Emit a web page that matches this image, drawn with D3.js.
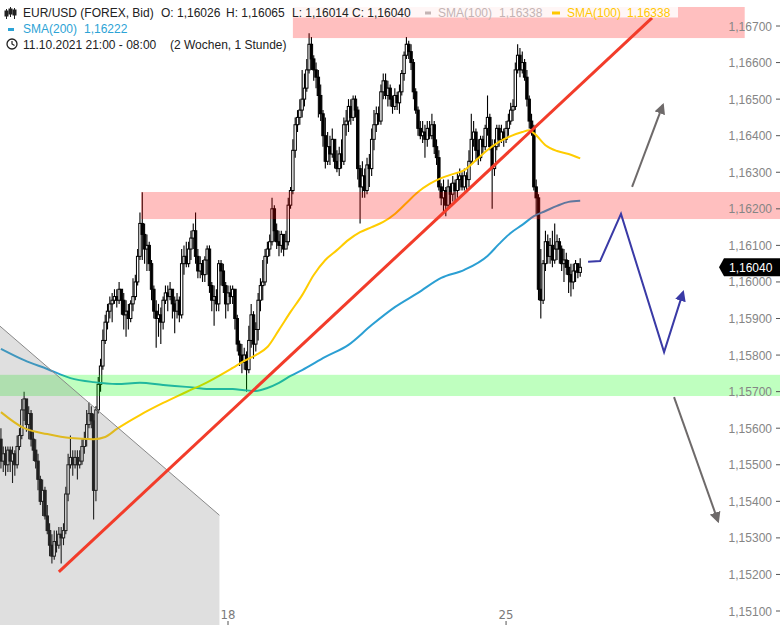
<!DOCTYPE html>
<html><head><meta charset="utf-8">
<script src="https://cdn.jsdelivr.net/npm/d3@7"></script>
<style>body{margin:0;background:#fff}svg{display:block}</style>
</head><body><svg id="c" width="780" height="625"></svg>
<script>
// ---------- data (hourly EUR/USD candles, index 0 = first visible candle) ----------
const firstOpen = 1.1557;
const closes = [
1.1551,1.1553,1.1550,1.1554,1.1551,1.1553,1.1550,1.1555,1.1558,1.1565,
1.1568,1.1561,1.1564,1.1557,1.1554,1.1551,1.1546,1.1540,1.1543,1.1536,
1.1532,1.1528,1.1525,1.1529,1.1528,1.1531,1.1530,1.1532,1.1542,1.1550,
1.1552,1.1550,1.1552,1.1550,1.1551,1.1555,1.1557,1.1561,1.1564,1.1562,
1.1543,1.1565,1.1572,1.1577,1.1584,1.1589,1.1592,1.1594,1.1595,1.1596,
1.1595,1.1598,1.1595,1.1591,1.1592,1.1590,1.1594,1.1596,1.1600,1.1607,
1.1616,1.1613,1.1609,1.1610,1.1605,1.1598,1.1592,1.1590,1.1591,1.1589,
1.1595,1.1597,1.1596,1.1598,1.1594,1.1592,1.1595,1.1591,1.1605,1.1607,
1.1605,1.1609,1.1612,1.1614,1.1607,1.1603,1.1605,1.1602,1.1606,1.1609,
1.1599,1.1595,1.1596,1.1594,1.1605,1.1603,1.1599,1.1594,1.1597,1.1596,
1.1598,1.1590,1.1583,1.1580,1.1578,1.1580,1.1576,1.1584,1.1591,1.1583,
1.1587,1.1595,1.1599,1.1600,1.1607,1.1609,1.1611,1.1620,1.1614,1.1611,
1.1610,1.1613,1.1609,1.1611,1.1621,1.1625,1.1636,1.1643,1.1645,1.1647,
1.1650,1.1653,1.1658,1.1665,1.1661,1.1658,1.1656,1.1651,1.1646,1.1640,
1.1633,1.1637,1.1635,1.1639,1.1633,1.1631,1.1635,1.1633,1.1643,1.1644,
1.1648,1.1645,1.1650,1.1647,1.1631,1.1626,1.1629,1.1625,1.1632,1.1631,
1.1639,1.1643,1.1646,1.1644,1.1652,1.1655,1.1651,1.1653,1.1650,1.1648,
1.1651,1.1649,1.1652,1.1657,1.1662,1.1665,1.1663,1.1660,1.1652,1.1647,
1.1642,1.1640,1.1641,1.1639,1.1642,1.1640,1.1643,1.1637,1.1634,1.1626,
1.1623,1.1625,1.1621,1.1626,1.1624,1.1627,1.1625,1.1628,1.1629,1.1626,
1.1629,1.1628,1.1633,1.1639,1.1641,1.1636,1.1634,1.1639,1.1637,1.1642,
1.1645,1.1637,1.1631,1.1637,1.1642,1.1639,1.1641,1.1639,1.1642,1.1644,
1.1647,1.1648,1.1658,1.1662,1.1658,1.1660,1.1656,1.1650,1.1644,1.1642,
1.1626,1.1623,1.1598,1.1595,1.1605,1.1611,1.1607,1.1610,1.1606,1.1609,
1.1611,1.1609,1.1605,1.1606,1.1604,1.1602,1.1600,1.1603,1.1605,1.16026,1.16040];
const highs = [
1.1560,1.1555,1.1555,1.1555,1.1555,1.1555,1.1554,1.1558,1.1560,1.1568,
1.1570,1.1568,1.1566,1.1565,1.1559,1.1557,1.1553,1.1547,1.1546,1.1544,
1.1539,1.1534,1.1531,1.1532,1.1532,1.1533,1.1533,1.1534,1.1544,1.1553,
1.1558,1.1554,1.1554,1.1554,1.1554,1.1557,1.1559,1.1565,1.1567,1.1566,
1.1564,1.1566,1.1574,1.1579,1.1587,1.1591,1.1594,1.1596,1.1597,1.1598,
1.1598,1.1600,1.1598,1.1597,1.1595,1.1594,1.1595,1.1601,1.1602,1.1609,
1.1619,1.16245,1.1616,1.1613,1.1611,1.1606,1.1599,1.1595,1.1594,1.1593,
1.1596,1.1599,1.1599,1.1600,1.1598,1.1596,1.1597,1.1596,1.1609,1.1610,
1.1611,1.1611,1.1614,1.1616,1.1619,1.1609,1.1607,1.1606,1.1607,1.1610,
1.1610,1.1600,1.1599,1.1598,1.1606,1.1606,1.1605,1.1600,1.1599,1.1599,
1.1599,1.1598,1.1591,1.1584,1.1583,1.1582,1.1581,1.1588,1.1594,1.1592,
1.1589,1.1597,1.1601,1.1606,1.1609,1.1611,1.1613,1.1623,1.1621,1.1616,
1.1614,1.1614,1.1613,1.1614,1.1623,1.1626,1.1639,1.1645,1.1647,1.1650,
1.1658,1.1657,1.1661,1.1668,1.1667,1.1662,1.1660,1.1658,1.1654,1.1647,
1.1645,1.1641,1.1640,1.1642,1.1639,1.1636,1.1637,1.1639,1.1645,1.1647,
1.1650,1.1650,1.1651,1.1651,1.1648,1.1632,1.1633,1.1631,1.1634,1.1635,
1.1642,1.1647,1.1648,1.1648,1.1654,1.1657,1.1657,1.1655,1.1654,1.1651,
1.1653,1.1652,1.1654,1.1658,1.1663,1.1667,1.1666,1.1665,1.1661,1.1653,
1.1648,1.1644,1.1644,1.1643,1.1644,1.1644,1.1646,1.1644,1.1639,1.1636,
1.1627,1.1628,1.1626,1.1628,1.1627,1.1629,1.1628,1.1630,1.1631,1.1630,
1.1631,1.1630,1.1636,1.1646,1.1644,1.1642,1.1639,1.1640,1.1640,1.1643,
1.1651,1.1646,1.1639,1.1639,1.1643,1.1643,1.1643,1.1642,1.1644,1.1646,
1.1649,1.1650,1.1660,1.1665,1.1664,1.1663,1.1661,1.1658,1.1651,1.1646,
1.1643,1.1628,1.1624,1.1609,1.1606,1.1614,1.1613,1.1612,1.1614,1.1616,
1.1613,1.1612,1.1610,1.1609,1.1608,1.1606,1.1605,1.1605,1.1606,1.1605,1.16065];
const lows = [
1.1549,1.1548,1.1547,1.1548,1.1548,1.1545,1.1547,1.1549,1.1554,1.1557,
1.1562,1.1559,1.1557,1.1555,1.1551,1.1549,1.1543,1.1539,1.1536,1.1535,
1.1531,1.1525,1.1523,1.1524,1.1526,1.1527,1.1523,1.1528,1.1531,1.1540,
1.1549,1.1547,1.1549,1.1546,1.1549,1.1550,1.1553,1.1555,1.1560,1.1560,
1.1535,1.1540,1.1564,1.1570,1.1576,1.1583,1.1587,1.1590,1.1589,1.1594,
1.1593,1.1594,1.1591,1.1587,1.1585,1.1587,1.1589,1.1592,1.1595,1.1599,
1.1606,1.1606,1.1605,1.1603,1.1603,1.1595,1.1590,1.1582,1.1585,1.1583,
1.1587,1.1594,1.1592,1.1595,1.1590,1.1586,1.1590,1.1589,1.1590,1.1602,
1.1604,1.1604,1.1606,1.1609,1.1605,1.1601,1.1601,1.1600,1.1600,1.1602,
1.1597,1.1592,1.1588,1.1592,1.1592,1.1599,1.1597,1.1590,1.1592,1.1594,
1.1594,1.1587,1.1581,1.1577,1.1575,1.1576,1.1570,1.1575,1.1582,1.1579,
1.1581,1.1584,1.1592,1.1595,1.1599,1.1605,1.1607,1.1610,1.1611,1.1609,
1.1607,1.1608,1.1607,1.1609,1.1610,1.1620,1.1624,1.1634,1.1641,1.1643,
1.1645,1.1648,1.1652,1.1657,1.1658,1.1655,1.1653,1.1645,1.1644,1.1637,
1.1631,1.1632,1.1632,1.1634,1.1631,1.1630,1.1629,1.1631,1.1632,1.1640,
1.1641,1.1643,1.1644,1.1645,1.1628,1.1616,1.1623,1.1623,1.1624,1.1626,
1.1629,1.1636,1.1641,1.1643,1.1643,1.1650,1.1650,1.1648,1.1648,1.1646,
1.1647,1.1647,1.1646,1.1651,1.1655,1.1661,1.1661,1.1658,1.1650,1.1646,
1.1640,1.1639,1.1638,1.1634,1.1637,1.1639,1.1639,1.1635,1.1632,1.1625,
1.1621,1.1619,1.1618,1.1620,1.1621,1.1622,1.1622,1.1623,1.1625,1.1625,
1.1625,1.1625,1.1626,1.1632,1.1637,1.1633,1.1632,1.1633,1.1635,1.1636,
1.1640,1.1636,1.1620,1.1629,1.1636,1.1637,1.1638,1.1637,1.1638,1.1640,
1.1643,1.1644,1.1647,1.1657,1.1656,1.1657,1.1655,1.1648,1.1642,1.1640,
1.1625,1.1618,1.1595,1.1590,1.1594,1.1603,1.1605,1.1605,1.1604,1.1605,
1.1606,1.1605,1.1603,1.1600,1.1602,1.1597,1.1596,1.1598,1.1600,1.1601,1.16014];

// moving averages [candle index, value]
const sma100 = [[0,1.15644],[10,1.1560],[20,1.15584],[30,1.15573],[40,1.1557],[45,1.15576],[50,1.15598],
 [60,1.15636],[70,1.15669],[80,1.15699],[90,1.15729],[100,1.15765],[105,1.15784],[110,1.1580],[115,1.15822],
 [120,1.15869],[125,1.15918],[130,1.15964],[135,1.16019],[140,1.1606],[145,1.16087],[150,1.16115],[155,1.16136],
 [160,1.1615],[165,1.16164],[170,1.16186],[175,1.16216],[180,1.16246],[185,1.16268],[190,1.16284],[195,1.16295],
 [200,1.16306],[205,1.16333],[210,1.16361],[215,1.16383],[220,1.16399],[225,1.1641],[228,1.16415],[230,1.16407],
 [235,1.16374],[240,1.16358],[245,1.1635],[250,1.16338]];
const sma200 = [[0,1.15817],[10,1.15786],[20,1.15762],[30,1.15737],[40,1.15726],[50,1.15721],[60,1.15724],
 [70,1.15718],[80,1.15713],[90,1.15707],[100,1.15707],[105,1.15704],[110,1.15702],[115,1.1571],[120,1.15724],
 [125,1.15743],[130,1.15759],[140,1.15795],[150,1.15828],[160,1.15882],[170,1.15931],[180,1.1597],[190,1.16011],
 [200,1.16033],[210,1.16071],[215,1.16104],[220,1.16134],[225,1.16156],[230,1.1618],[235,1.16194],[240,1.16208],
 [245,1.16219],[250,1.16222]];

// drawings
const redZones = [{from:126,to:321,lo:1.16667,hi:1.16752},{from:60.5,to:337,lo:1.16172,hi:1.16246}];
const greenZones = [{from:-1,to:337,lo:1.15688,hi:1.15746}];
const grayTriangle = [[-0.4,1.15879],[94.3,1.15362],[94.3,1.1505],[-0.4,1.1505]];
const trendLine = [[25,1.15207],[281,1.16722]];
const arrowUp = [[272.4,1.16260],[285.7,1.16484]];
const scenario = [[253.4,1.16055],[258.6,1.16057],[267.6,1.16186],[286.2,1.15808],[294.4,1.15972]];
const arrowDown = [[290.5,1.15685],[309.5,1.15346]];

const yTicks = [1.151,1.152,1.153,1.154,1.155,1.156,1.157,1.158,1.159,1.160,1.161,1.162,1.163,1.164,1.165,1.166,1.167];
const xTicks = [{i:98,label:"18"},{i:218,label:"25"}];
const lastPrice = 1.16040;

// ---------- drawing ----------
const svg = d3.select("#c");
const x = d3.scaleLinear().domain([0,250]).range([0.93,580.2]);
const y = d3.scaleLinear().domain([1.151,1.167]).range([611,26]);
const fmt = v => d3.format(".5f")(v).replace(".",",");
const FONT = "'Liberation Sans',Arial,sans-serif";

const opens = [firstOpen, ...closes.slice(0,-1)];
const data = closes.map((c,i)=>({i,o:opens[i],h:highs[i],l:lows[i],c}));

const defs = svg.append("defs");
function marker(id,color){
  defs.append("marker").attr("id",id).attr("viewBox","0 0 10 10").attr("refX",8).attr("refY",5)
   .attr("markerWidth",11).attr("markerHeight",11).attr("markerUnits","userSpaceOnUse").attr("orient","auto")
   .append("path").attr("d","M0,0L10,5L0,10z").attr("fill",color);
}
marker("mg","#6e6a6a"); marker("mb","#3a3aa6");

// candles
const gc = svg.append("g");
gc.selectAll("line").data(data).join("line")
 .attr("x1",d=>x(d.i)).attr("x2",d=>x(d.i))
 .attr("y1",d=>y(Math.max(d.h,d.o,d.c))).attr("y2",d=>y(Math.min(d.l,d.o,d.c)))
 .attr("stroke","#000").attr("stroke-width",1.1);
gc.selectAll("rect").data(data).join("rect")
 .attr("x",d=>x(d.i)-1.2).attr("width",2.4)
 .attr("y",d=>y(Math.max(d.o,d.c))).attr("height",d=>Math.max(0.8,Math.abs(y(d.o)-y(d.c))))
 .attr("fill",d=>d.c>=d.o?"#fff":"#000").attr("stroke","#000").attr("stroke-width",1);

// SMA lines
const line = d3.line().x(d=>x(d[0])).y(d=>y(d[1])).curve(d3.curveMonotoneX);
svg.append("path").attr("d",line(sma200)).attr("fill","none").attr("stroke","#2b9fd3").attr("stroke-width",2);
svg.append("path").attr("d",line(sma100)).attr("fill","none").attr("stroke","#ffcc00").attr("stroke-width",2);

// zones
svg.selectAll("rect.rz").data(redZones).join("rect").attr("class","rz")
 .attr("x",d=>x(d.from)).attr("width",d=>x(d.to)-x(d.from)).attr("y",d=>y(d.hi)).attr("height",d=>y(d.lo)-y(d.hi))
 .attr("fill","rgba(255,0,0,0.25)");
svg.selectAll("rect.gz").data(greenZones).join("rect").attr("class","gz")
 .attr("x",d=>x(d.from)).attr("width",d=>x(d.to)-x(d.from)).attr("y",d=>y(d.hi)).attr("height",d=>y(d.lo)-y(d.hi))
 .attr("fill","rgba(0,255,0,0.25)");
svg.append("path").attr("d",d3.line().x(d=>x(d[0])).y(d=>y(d[1]))(grayTriangle)+"Z")
 .attr("fill","rgba(128,128,128,0.25)");
svg.append("path").attr("d",d3.line().x(d=>x(d[0])).y(d=>y(d[1]))(grayTriangle.slice(0,2)))
 .attr("stroke","#888").attr("stroke-width",1).attr("fill","none");

// trend line & arrows
const pl = d3.line().x(d=>x(d[0])).y(d=>y(d[1]));
svg.append("path").attr("d",pl(trendLine)).attr("stroke","#f23c2a").attr("stroke-width",3).attr("fill","none");
svg.append("path").attr("d",pl(arrowUp)).attr("stroke","#6e6a6a").attr("stroke-width",2).attr("fill","none").attr("marker-end","url(#mg)");
svg.append("path").attr("d",pl(arrowDown)).attr("stroke","#6e6a6a").attr("stroke-width",2).attr("fill","none").attr("marker-end","url(#mg)");
svg.append("path").attr("d",pl(scenario)).attr("stroke","#3a3aa6").attr("stroke-width",2).attr("fill","none").attr("marker-end","url(#mb)");

// y axis
const ga = svg.append("g").attr("font-family",FONT).attr("font-size",12);
ga.selectAll("text").data(yTicks).join("text").attr("x",772).attr("y",d=>y(d)+4.5)
 .attr("text-anchor","end").attr("fill","#858585").text(fmt);
ga.selectAll("line").data(yTicks).join("line").attr("x1",776).attr("x2",780).attr("y1",d=>y(d)).attr("y2",d=>y(d))
 .attr("stroke","#555");

// price tag
const py = y(lastPrice);
svg.append("path").attr("d",`M719,${py} L724,${py-9} L780,${py-9} L780,${py+9} L724,${py+9} Z`).attr("fill","#000");
svg.append("text").attr("x",729).attr("y",py+4.5).attr("fill","#fff").attr("font-family",FONT)
 .attr("font-size",12).text(fmt(lastPrice));

// x axis
const gx = svg.append("g");
gx.selectAll("text").data(xTicks).join("text").attr("x",d=>x(d.i)).attr("y",619).attr("text-anchor","middle")
 .attr("font-family","'Liberation Sans Narrow','DejaVu Sans Condensed',sans-serif").attr("font-size",13).attr("fill","#7a7a7a").text(d=>d.label);
gx.selectAll("line").data(xTicks).join("line").attr("x1",d=>x(d.i)).attr("x2",d=>x(d.i)).attr("y1",621).attr("y2",625).attr("stroke","#555");

// legend
const lg = svg.append("g").attr("font-family",FONT).attr("font-size",12);
lg.append("rect").attr("x",0).attr("y",3).attr("width",678).attr("height",14.5).attr("fill","rgba(255,255,255,0.85)");
// candle icon
const ic = lg.append("g").attr("stroke","#222").attr("stroke-width",1);
[[6,9,19,11,16],[10,7,17,9,14],[14,8,19,10,15]].forEach(([cx,t,b,bt,bb])=>{
  ic.append("line").attr("x1",cx+0.5).attr("x2",cx+0.5).attr("y1",t).attr("y2",b);
  ic.append("rect").attr("x",cx-1).attr("y",bt).attr("width",3).attr("height",bb-bt).attr("fill","#222");
});
const t1 = [["EUR/USD (FOREX, Bid)",23,"#222"],["O: 1,16026",161,"#222"],["H: 1,16065",226,"#222"],
 ["L: 1,16014",292,"#222"],["C: 1,16040",352,"#222"],["SMA(100)",438,"#c4b4b4"],["1,16338",499,"#c4b4b4"],
 ["SMA(100)",567,"#ffc800"],["1,16338",627,"#ffc800"]];
t1.forEach(([s,tx,c])=>lg.append("text").attr("x",tx).attr("y",17).attr("fill",c).text(s));
lg.append("rect").attr("x",425).attr("y",11.5).attr("width",6).attr("height",3).attr("fill","#c4b4b4");
lg.append("rect").attr("x",552).attr("y",11.5).attr("width",8).attr("height",3).attr("fill","#ffc800");
lg.append("rect").attr("x",8).attr("y",28).attr("width",6).attr("height",3).attr("fill","#2ca3d6");
lg.append("text").attr("x",23).attr("y",33).attr("fill","#2ca3d6").text("SMA(200)");
lg.append("text").attr("x",84).attr("y",33).attr("fill","#2ca3d6").text("1,16222");
lg.append("circle").attr("cx",12).attr("cy",44).attr("r",5).attr("fill","none").attr("stroke","#222").attr("stroke-width",1.3);
lg.append("path").attr("d","M12,41 L12,44 L14.5,45.5").attr("fill","none").attr("stroke","#222").attr("stroke-width",1.2);
lg.append("text").attr("x",23).attr("y",49).attr("fill","#222").text("11.10.2021 21:00 - 08:00");
lg.append("text").attr("x",170).attr("y",49).attr("fill","#222").text("(2 Wochen, 1 Stunde)");
</script></body></html>
